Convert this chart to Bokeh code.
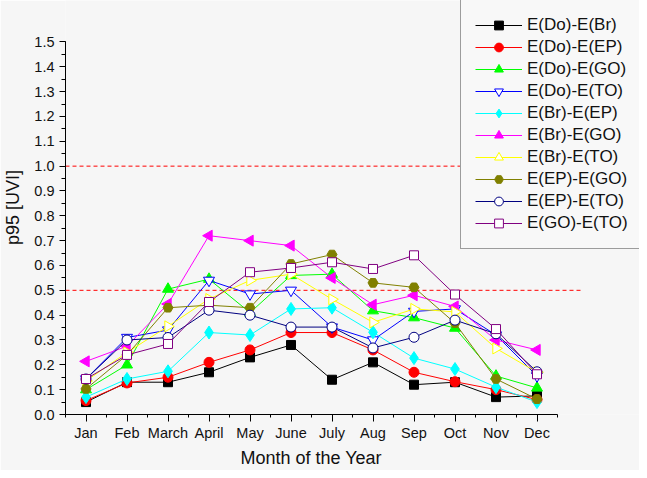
import math
from bokeh.plotting import figure
from bokeh.models import (FixedTicker, PrintfTickFormatter, Legend, LegendItem,
                          Range1d, ColumnDataSource, Title)
from bokeh.embed import file_html
from bokeh.resources import INLINE

months = ["Jan", "Feb", "March", "April", "May", "June", "July", "Aug", "Sep", "Oct", "Nov", "Dec"]
month_idx = list(range(1, 13))

do_br = [0.05, 0.13, 0.13, 0.17, 0.23, 0.28, 0.14, 0.21, 0.12, 0.13, 0.07, 0.075]
do_ep = [0.056, 0.127, 0.15, 0.21, 0.26, 0.33, 0.33, 0.26, 0.17, 0.132, 0.10, 0.06]
do_go = [0.10, 0.20, 0.505, 0.545, 0.41, 0.56, 0.565, 0.418, 0.39, 0.348, 0.155, 0.107]
do_to = [0.143, 0.31, 0.34, 0.54, 0.485, 0.50, 0.352, 0.30, 0.415, 0.425, 0.32, 0.155]
br_ep = [0.07, 0.143, 0.174, 0.33, 0.32, 0.425, 0.43, 0.331, 0.227, 0.183, 0.11, 0.05]
br_go = [0.214, 0.275, 0.445, 0.72, 0.70, 0.68, 0.55, 0.442, 0.48, 0.435, 0.30, 0.26]
br_to = [0.135, 0.25, 0.355, 0.465, 0.54, 0.565, 0.464, 0.371, 0.425, 0.413, 0.266, 0.17]
ep_go = [0.103, 0.24, 0.43, 0.44, 0.43, 0.606, 0.644, 0.53, 0.512, 0.368, 0.143, 0.062]
ep_to = [0.143, 0.30, 0.31, 0.42, 0.40, 0.352, 0.352, 0.268, 0.311, 0.38, 0.325, 0.172]
go_to = [0.143, 0.24, 0.284, 0.453, 0.573, 0.59, 0.613, 0.586, 0.641, 0.483, 0.344, 0.162]

series_names = ["E(Do)-E(Br)", "E(Do)-E(EP)", "E(Do)-E(GO)", "E(Do)-E(TO)", "E(Br)-E(EP)",
                "E(Br)-E(GO)", "E(Br)-E(TO)", "E(EP)-E(GO)", "E(EP)-E(TO)", "E(GO)-E(TO)"]
series_values = [do_br, do_ep, do_go, do_to, br_ep, br_go, br_to, ep_go, ep_to, go_to]

y_ticks = [round(i * 0.1, 1) for i in range(16)]
y_minor = [round(i * 0.05, 2) for i in range(31)]
thresholds = [0.5, 1.0]

# styles: (line color, marker, size, fill, angle)
styles = [
    ("#000000", "square", 9, "#000000", 0.0),
    ("#ff0000", "circle", 10, "#ff0000", 0.0),
    ("#00ff00", "triangle", 11, "#00ff00", 0.0),
    ("#0000ff", "inverted_triangle", 11, "#ffffff", 0.0),
    ("#00ffff", "diamond", 13, "#00ffff", 0.0),
    ("#ff00ff", "triangle", 11, "#ff00ff", math.pi / 2),
    ("#ffff00", "triangle", 11, "#ffffff", -math.pi / 2),
    ("#808000", "hex", 10, "#808000", 0.0),
    ("#000080", "circle", 10, "#ffffff", 0.0),
    ("#800080", "square", 9, "#ffffff", 0.0),
]

FONT = "Liberation Sans"
BG = "#f6f6f6"

X0, X_AXIS_END, X_DASH_END, X_FRAME_END = 0.5, 12.5, 13.09, 14.5
Y_FRAME_END = 1.667

p = figure(width=639, height=470, x_range=Range1d(X0, X_FRAME_END), y_range=Range1d(0, Y_FRAME_END),
           output_backend="svg", toolbar_location=None, title=None,
           min_border_left=64, min_border_right=0, min_border_top=0, min_border_bottom=56)
p.background_fill_color = BG
p.border_fill_color = BG
p.outline_line_color = None
p.xgrid.visible = False
p.ygrid.visible = False

p.segment(x0=[X0] * len(thresholds), y0=thresholds, x1=[X_DASH_END] * len(thresholds), y1=thresholds,
          line_color="#ff0000", line_dash="4 3", line_width=1)

items = []
for name, vals, (col, mk, sz, fill, ang) in zip(series_names, series_values, styles):
    src = ColumnDataSource(dict(x=month_idx, y=vals, a=[ang] * len(vals)))
    lr = p.line("x", "y", source=src, line_color=col, line_width=1)
    sr = p.scatter("x", "y", source=src, marker=mk, size=sz, line_color=col,
                   fill_color=fill, line_width=1, angle="a")
    items.append(LegendItem(label=name, renderers=[lr, sr], index=0))

legend = Legend(items=items, location=(395, 165), margin=0, padding=14,
                spacing=0, glyph_height=22, label_height=22, glyph_width=47,
                label_standoff=5, label_text_font=FONT, label_text_font_size="17px",
                label_text_color="#111111",
                background_fill_color="#f8f8f8", background_fill_alpha=1.0,
                border_line_color="#404040", border_line_width=1)
p.add_layout(legend, "center")

xa = p.xaxis[0]
xa.ticker = FixedTicker(ticks=month_idx, minor_ticks=[i + 0.5 for i in range(0, 13)])
xa.major_label_overrides = {i: m for i, m in zip(month_idx, months)}
xa.bounds = (X0, X_AXIS_END)

p.add_layout(Title(text="Month of the Year", align="left", offset=175, standoff=4,
                   text_font=FONT, text_font_size="18px", text_font_style="normal",
                   text_color="#111111"), "below")

ya = p.yaxis[0]
ya.ticker = FixedTicker(ticks=y_ticks, minor_ticks=y_minor)
ya.formatter = PrintfTickFormatter(format="%.1f")
ya.bounds = (0, 1.5)
ya.axis_label = "p95 [UVI]"

for ax in (xa, ya):
    ax.axis_line_color = "#000000"
    ax.axis_line_width = 1
    ax.major_tick_line_color = "#000000"
    ax.minor_tick_line_color = "#000000"
    ax.major_tick_in = 0
    ax.minor_tick_in = 0
    ax.major_label_text_font = FONT
    ax.major_label_text_font_size = "14.5px"
    ax.major_label_text_color = "#111111"
    ax.axis_label_text_font = FONT
    ax.axis_label_text_font_size = "18px"
    ax.axis_label_text_font_style = "normal"
    ax.axis_label_text_color = "#111111"
    ax.major_label_standoff = 5

xa.major_tick_out = 7
xa.minor_tick_out = 3
xa.major_label_standoff = 3
ya.major_tick_out = 6
ya.minor_tick_out = 4
ya.axis_label_standoff = 8

open("out.html", "w").write(file_html(p, INLINE))
